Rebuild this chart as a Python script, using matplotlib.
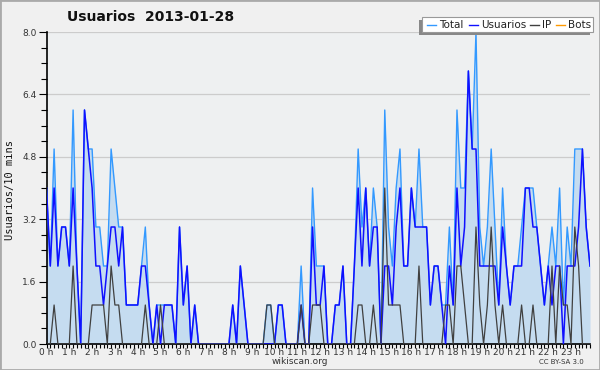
import matplotlib
matplotlib.use('Agg')
import matplotlib.pyplot as plt
from matplotlib.patches import Rectangle
from matplotlib.lines import Line2D

# puntos cada 10 minutos (144 por día)
usuarios = [
    4, 2, 4, 2, 3, 3, 2, 4, 2, 0,
    6, 5, 4, 2, 2, 1, 2, 3, 3, 2,
    3, 1, 1, 1, 1, 2, 2, 1, 0, 1,
    0, 1, 1, 1, 0, 3, 1, 2, 0, 1,
    0, 0, 0, 0, 0, 0, 0, 0, 0, 1,
    0, 2, 1, 0, 0, 0, 0, 0, 0, 0,
    0, 1, 1, 0, 0, 0, 0, 1, 0, 0,
    3, 1, 1, 2, 0, 0, 1, 1, 2, 0,
    0, 2, 4, 2, 4, 2, 3, 3, 0, 2,
    2, 1, 3, 4, 2, 2, 4, 3, 3, 3,
    3, 1, 2, 2, 1, 0, 2, 1, 4, 2,
    3, 7, 5, 5, 2, 2, 2, 2, 2, 1,
    3, 2, 1, 2, 2, 2, 4, 4, 3, 3,
    2, 1, 2, 1, 2, 2, 0, 2, 2, 2,
    3, 5, 3, 2,
]
ip = [
    0, 0, 1, 0, 0, 0, 0, 2, 0, 0,
    0, 0, 1, 1, 1, 1, 0, 2, 1, 1,
    0, 0, 0, 0, 0, 0, 1, 0, 0, 0,
    1, 0, 0, 0, 0, 0, 0, 0, 0, 0,
    0, 0, 0, 0, 0, 0, 0, 0, 0, 0,
    0, 0, 0, 0, 0, 0, 0, 0, 1, 1,
    0, 0, 0, 0, 0, 0, 0, 1, 0, 0,
    1, 1, 1, 0, 0, 0, 0, 0, 0, 0,
    0, 0, 1, 1, 0, 0, 1, 0, 0, 4,
    1, 1, 1, 1, 0, 0, 0, 0, 2, 0,
    0, 0, 0, 0, 0, 1, 1, 0, 2, 2,
    1, 0, 0, 3, 1, 0, 1, 3, 1, 0,
    1, 0, 0, 0, 0, 1, 0, 0, 1, 0,
    0, 0, 0, 2, 0, 2, 1, 1, 0, 3,
    2, 0, 0, 0,
]
total = [
    4, 2, 5, 2, 3, 3, 2, 6, 2, 0,
    6, 5, 5, 3, 3, 2, 2, 5, 4, 3,
    3, 1, 1, 1, 1, 2, 3, 1, 0, 1,
    1, 1, 1, 1, 0, 3, 1, 2, 0, 1,
    0, 0, 0, 0, 0, 0, 0, 0, 0, 1,
    0, 2, 1, 0, 0, 0, 0, 0, 1, 1,
    0, 1, 1, 0, 0, 0, 0, 2, 0, 0,
    4, 2, 2, 2, 0, 0, 1, 1, 2, 0,
    0, 2, 5, 3, 4, 2, 4, 3, 0, 6,
    3, 2, 4, 5, 2, 2, 4, 3, 5, 3,
    3, 1, 2, 2, 1, 1, 3, 1, 6, 4,
    4, 7, 5, 8, 3, 2, 3, 5, 3, 1,
    4, 2, 1, 2, 2, 3, 4, 4, 4, 3,
    2, 1, 2, 3, 2, 4, 1, 3, 2, 5,
    5, 5, 3, 2,
]
bots = [0] * 144

hour_labels = [f'{h} h' for h in range(24)]
y_ticks = [0.0, 1.6, 3.2, 4.8, 6.4, 8.0]

x = list(range(len(total)))

fig = plt.figure(figsize=(6, 3.7), dpi=100, facecolor='#f0f0f0')
ax = fig.add_axes([46.5 / 600, 26 / 370, 543.5 / 600, 312 / 370])
ax.set_facecolor('#eef0f1')

ax.fill_between(x, total, 0, color='#c5dcf0', lw=0, zorder=2)
ax.plot(x, total, color='#3399ff', lw=1.0, zorder=3)
ax.plot(x, usuarios, color='#1010ff', lw=1.1, zorder=4)
ax.plot(x, ip, color='#404040', lw=0.9, zorder=5)
ax.plot(x, bots, color='#ff9900', lw=0.9, zorder=1)

ax.set_xlim(0, 143)
ax.set_ylim(0, 8.0)
ax.set_yticks(y_ticks)
ax.set_yticklabels([f'{v:.1f}' for v in y_ticks])
ax.set_yticks([i * 0.4 for i in range(21)], minor=True)
ax.set_xticks([h * 6 for h in range(24)])
ax.set_xticklabels(hour_labels)
ax.set_xticks(x, minor=True)

ax.grid(axis='y', which='major', color='#cccccc', lw=0.9, zorder=0)
for s in ['top', 'right']:
    ax.spines[s].set_visible(False)
ax.spines['left'].set_linewidth(1.2)
ax.spines['bottom'].set_linewidth(1.2)
ax.tick_params(axis='y', which='major', length=6, width=0.8, labelsize=6.5,
               labelcolor='#333333', pad=1)
ax.tick_params(axis='y', which='minor', length=4, width=0.8)
ax.tick_params(axis='x', which='both', length=3, width=0.8)
ax.tick_params(axis='x', which='major', labelsize=6.5, labelcolor='#333333', pad=0)

fig.text(10 / 600, 1 - 190 / 370, 'Usuarios/10 mins', rotation=90, ha='center',
         va='center', fontsize=7.5, family='DejaVu Sans Mono', color='#111111')
fig.text(151 / 600, 1 - 17 / 370, 'Usuarios  2013-01-28', ha='center', va='center',
         fontsize=10, fontweight='bold', color='#111111')
fig.text(300 / 600, 1 - 362 / 370, 'wikiscan.org', ha='center', va='center',
         fontsize=6.5, color='#333333')
fig.text(561 / 600, 1 - 362 / 370, 'CC BY-SA 3.0', ha='center', va='center',
         fontsize=5, color='#333333')

# leyenda con sombra a la izquierda
lx0, lx1, ly0, ly1 = 422 / 600, 593 / 600, 1 - 32 / 370, 1 - 17 / 370
fig.patches.append(Rectangle((lx0 - 3 / 600, ly0 - 3 / 370), lx1 - lx0, ly1 - ly0,
                             transform=fig.transFigure, facecolor='#888888',
                             edgecolor='none', zorder=10))
fig.patches.append(Rectangle((lx0, ly0), lx1 - lx0, ly1 - ly0, transform=fig.transFigure,
                             facecolor='white', edgecolor='#999999', lw=0.8, zorder=11))
items = [('Total', '#3399ff', 427), ('Usuarios', '#1010ff', 469),
         ('IP', '#404040', 530), ('Bots', '#ff9900', 556)]
ym = (ly0 + ly1) / 2
for name, col, px in items:
    fig.add_artist(Line2D([px / 600, (px + 9) / 600], [ym, ym], color=col, lw=1.0,
                          transform=fig.transFigure, zorder=12))
    fig.text((px + 12) / 600, ym, name, ha='left', va='center', fontsize=7.5,
             color='#222222', zorder=12)

# marco exterior
fig.patches.append(Rectangle((0, 0), 1, 1, transform=fig.transFigure, fill=False,
                             edgecolor='#aaaaaa', lw=2, zorder=20))

fig.savefig('out.png', dpi=100, facecolor=fig.get_facecolor())
